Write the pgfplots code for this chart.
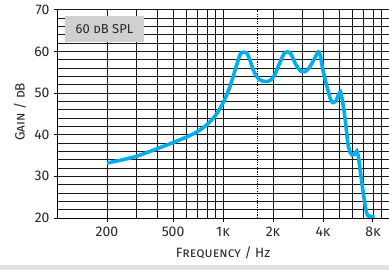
\documentclass[border=0pt]{standalone}
\usepackage{fontspec}
\setmainfont{Fira Sans}
\usepackage{pgfplots}
\pgfplotsset{compat=1.18}
\definecolor{curve}{RGB}{0,174,239}
\definecolor{boxgray}{RGB}{208,208,208}
\definecolor{band}{RGB}{226,226,226}
\begin{document}
\begin{tikzpicture}
\path[use as bounding box] (0,0) rectangle (389bp,270bp);
\fill[band] (0,0) rectangle (389bp,4.5bp);
\begin{axis}[
  scale only axis,
  anchor=south west, at={(57bp,52bp)},
  width=332bp, height=208.3bp,
  xmode=log, xmin=100, xmax=10000,
  ymin=20, ymax=70,
  clip=false,
  axis x line*=bottom, axis y line*=left,
  axis line style={black, line width=0.9pt, -},
  xtick={200,500,1000,2000,4000,8000},
  xticklabels={200,500,1\textsc{k},2\textsc{k},4\textsc{k},8\textsc{k}},
  minor xtick={300,400,600,700,800,900,3000,5000,6000,7000,9000},
  ytick={20,30,40,50,60,70},
  yticklabels={20,30,40,50,60,70},
  minor ytick={22,24,26,28,32,34,36,38,42,44,46,48,52,54,56,58,62,64,66,68},
  grid=both,
  major grid style={black!90, line width=0.75pt},
  minor grid style={black!90, line width=0.75pt},
  tick align=outside,
  major tick length=3.5bp, minor tick length=0pt,
  tick style={black, line width=0.9pt},
  extra x ticks={1600},
  extra x tick labels={},
  extra x tick style={major tick length=0pt, grid=major, major grid style={black, dash pattern=on 1.2pt off 1.2pt, line width=0.75pt}},
  ticklabel style={font=\fontsize{14}{16}\selectfont, text=black!85},
  xticklabel style={yshift=-2.5bp},
  yticklabel style={xshift=-0.5bp},
  xlabel={F\textsc{requency} / Hz},
  ylabel={G\textsc{ain} / \textsc{d}B},
  label style={font=\fontsize{13.5}{15}\selectfont, text=black!85},
  xlabel style={at={(axis description cs:0.5,-0.165)}, anchor=center},
  ylabel style={at={(axis description cs:-0.112,0.51)}, anchor=center, rotate=0},
]
\addplot[curve, line width=3.6pt, smooth, tension=0.45] coordinates {
(200,33.2) (250,34.0) (300,34.8) (400,36.6) (500,38.1) (600,39.4) (700,40.7)
(800,42.4) (900,44.6) (1000,47.6) (1100,51.5) (1200,56.3) (1270,59.3) (1330,59.8)
(1390,59.6) (1450,58.0) (1530,55.3) (1620,53.6) (1720,52.9) (1850,52.8) (1950,53.2)
(2050,54.4) (2200,57.3) (2330,59.4) (2450,59.9) (2570,59.3) (2750,56.8) (2950,55.2)
(3100,55.1) (3300,56.0) (3550,58.2) (3750,59.9) (3850,59.2) (4000,55.5) (4250,51.2)
(4450,48.4) (4600,47.7) (4800,48.2) (4950,49.5) (5100,50.3) (5250,48.0) (5450,43.6)
(5650,38.0) (5850,35.6) (6000,35.1) (6200,35.3) (6400,36.1) (6550,34.5) (6700,31.5)
(7000,26.0) (7300,21.5) (7500,20.5) (7800,20.4) (8200,20.4)
};
\end{axis}
\node[fill=boxgray, minimum width=79bp, minimum height=26bp, inner sep=0pt,
      font=\fontsize{13}{15}\selectfont, text=black!85] at (104.5bp,241bp) {60 \textsc{d}B SPL};
\end{tikzpicture}
\end{document}
